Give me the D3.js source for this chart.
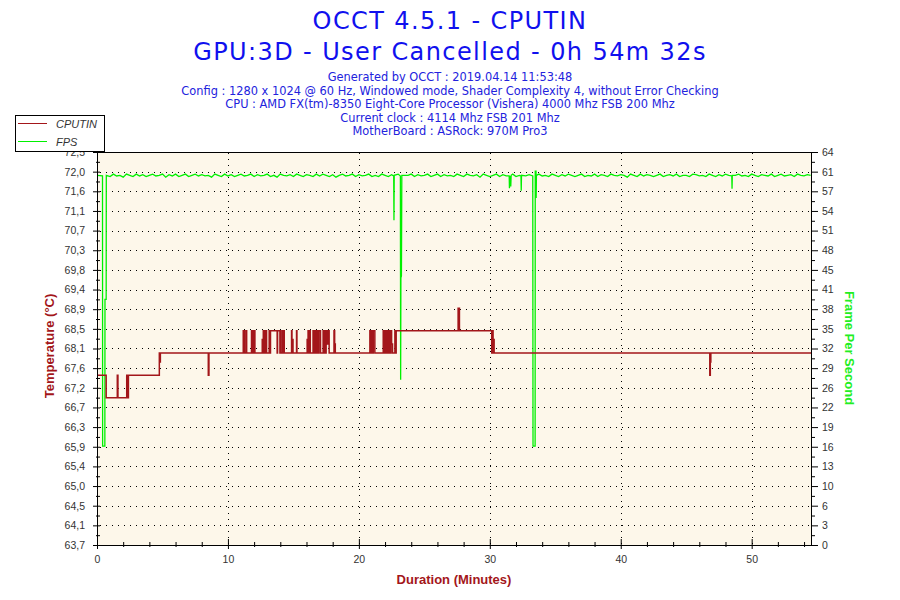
<!DOCTYPE html>
<html>
<head>
<meta charset="utf-8">
<script src="https://cdn.jsdelivr.net/npm/d3@7"></script>
<style>
  body { margin: 0; background: #fff; }
  svg { display: block; }
</style>
</head>
<body>
<div id="chart"></div>
<script>
// ---- data ----
const titleLines = ["OCCT 4.5.1 - CPUTIN", "GPU:3D - User Cancelled - 0h 54m 32s"];
const infoLines = [
  "Generated by OCCT : 2019.04.14 11:53:48",
  "Config : 1280 x 1024 @ 60 Hz, Windowed mode, Shader Complexity 4, without Error Checking",
  "CPU : AMD FX(tm)-8350 Eight-Core Processor (Vishera) 4000 Mhz FSB 200 Mhz",
  "Current clock : 4114 Mhz FSB 201 Mhz",
  "MotherBoard : ASRock: 970M Pro3"
];

const tempTickLabels = ["63,7","64,1","64,5","65,0","65,4","65,9","66,3","66,7","67,2","67,6","68,1",
  "68,5","68,9","69,4","69,8","70,3","70,7","71,1","71,6","72,0","72,5"];
const fpsTickLabels = ["0","3","6","10","13","16","19","22","26","29","32","35","38","41","45","48",
  "51","54","57","61","64"];
const timeTicks = [0, 10, 20, 30, 40, 50];
const durationMinutes = 54.53;

// CPUTIN temperature, change points (minutes, °C)
const tempTime = [0, 0.7, 1.55, 1.6, 2.27, 2.3, 2.33, 2.36, 2.4, 4.76, 4.8, 4.84, 8.5, 8.55,
  11.17, 11.2, 11.25, 11.28, 11.4, 11.43, 11.8, 11.85, 11.88, 11.95, 12.0, 12.06,
  12.62, 12.65, 12.7, 12.76, 12.8, 12.88, 12.9, 12.95, 13.15, 13.2, 13.25, 13.76, 13.79,
  13.97, 14.0, 14.05, 14.1, 14.17, 14.2, 14.24, 14.3, 14.86, 14.89, 14.94, 14.97, 15.24, 15.27,
  16.05, 16.08, 16.12, 16.2, 16.26, 16.29, 16.5, 16.54, 16.58, 16.64,
  16.72, 16.8, 16.84, 16.92, 16.95, 17.07, 17.27, 17.33, 17.37, 17.45, 17.5, 17.55, 17.62, 17.73,
  18.1, 18.15, 18.2,
  20.84, 20.9, 20.95, 21.05, 21.1, 21.22, 21.86, 21.95, 22.0, 22.1, 22.14, 22.24,
  22.3, 22.4, 22.45, 22.5, 22.57, 22.75, 22.8, 22.85,
  27.58, 27.68, 30.15, 30.2, 30.25, 30.28, 30.33, 46.8, 46.84, 46.88, 54.53];
const tempValue = [67.5, 67.0, 67.5, 67.0, 67.5, 67.0, 67.5, 67.0, 67.5, 68.0, 67.8, 68.0, 67.5, 68.0,
  68.5, 68.0, 68.5, 68.0, 68.5, 68.0, 68.5, 68.0, 68.5, 68.0, 68.5, 68.0,
  68.3, 68.0, 68.5, 68.0, 68.5, 68.0, 68.5, 68.0, 68.5, 68.0, 68.5, 68.0, 68.5,
  68.0, 68.5, 68.0, 68.0, 68.5, 68.0, 68.5, 68.0, 68.5, 68.0, 68.3, 68.0, 68.5, 68.0,
  68.3, 68.0, 68.5, 68.0, 68.5, 68.0, 68.5, 68.0, 68.5, 68.0,
  68.5, 68.0, 68.5, 68.0, 68.5, 68.0, 68.5, 68.0, 68.5, 68.0, 68.5, 68.2, 68.5, 68.0,
  68.5, 68.2, 68.0,
  68.5, 68.0, 68.5, 68.0, 68.5, 68.0, 68.5, 68.0, 68.5, 68.0, 68.5, 68.0,
  68.5, 68.0, 68.5, 68.2, 68.0, 68.5, 68.0, 68.5,
  69.0, 68.5, 68.0, 68.5, 68.0, 68.3, 68.0, 67.5, 67.8, 68.0, 68.0];

// FPS: steady jitter sampled every 0.25 min from 0.75 min on
const fpsNoiseStart = 0.75;
const fpsNoiseStep = 0.25;
const fpsNoise = [
  60.3,60.0,60.4,60.1,60.2,59.9,60.4,60.2,60.0,60.4,60.1,60.3,
  60.0,60.2,60.4,60.1,60.2,60.4,59.9,60.3,60.1,60.4,60.0,60.2,
  60.4,60.0,60.2,60.4,60.1,60.3,60.1,60.2,59.9,60.4,60.2,60.0,
  60.4,60.1,60.3,60.0,60.2,60.4,60.1,60.2,60.4,60.0,60.3,60.1,
  60.2,60.4,60.0,60.2,59.9,60.4,60.2,60.1,60.3,60.0,60.4,60.2,
  60.0,60.3,60.2,60.0,60.4,60.1,60.4,60.2,60.0,60.3,59.9,60.2,
  60.4,60.1,60.2,60.4,60.0,60.3,60.1,60.2,60.4,60.0,60.2,60.0,
  60.4,60.2,60.0,60.3,60.1,60.4,59.9,60.2,60.2,60.4,60.0,60.3,
  60.1,60.2,60.4,60.0,60.2,60.4,60.0,60.3,60.1,60.2,60.0,60.4,
  60.2,60.0,60.4,60.2,60.1,60.3,59.9,60.4,60.2,60.0,60.2,60.4,
  60.0,60.3,60.1,60.2,60.4,60.0,60.2,60.4,60.1,60.3,60.0,60.2,
  60.4,60.1,60.2,60.0,60.4,60.2,60.0,60.3,60.1,60.4,60.2,60.0,
  60.2,60.4,60.0,60.2,60.1,60.4,60.0,60.3,60.2,60.0,60.4,60.2,
  60.1,60.3,60.2,59.9,60.4,60.2,60.0,60.4,60.1,60.3,60.2,60.0,
  60.2,60.4,60.0,60.2,60.3,60.1,60.4,60.0,60.2,60.2,60.0,60.4,
  60.3,60.1,60.2,60.0,60.4,60.2,60.0,60.3,60.1,60.4,60.2,59.9,
  60.2,60.4,60.1,60.2,60.0,60.4,60.2,60.0,60.3,60.2,60.1,60.4,
  60.0,60.2,60.4,60.1,60.2,60.3,60.0,60.4,60.2,60.1,60.3,60.2];
// FPS drops (minutes, fps)
const fpsEventTime = [0, 0.42, 0.43, 0.6, 0.61, 0.7, 0.71,
  22.66, 22.68, 22.7,
  23.17, 23.19, 23.21, 23.25, 23.28,
  31.48, 31.5, 31.53, 31.6, 31.63,
  32.38, 32.4, 32.42,
  33.28, 33.3, 33.46, 33.47, 33.53, 33.54, 33.56,
  48.48, 48.5, 48.52];
const fpsEventValue = [60.2, 60.1, 16.1, 16.1, 40.0, 40.0, 60.2,
  60.1, 52.9, 60.2,
  60.1, 26.9, 43.5, 43.8, 60.2,
  60.1, 58.1, 60.1, 58.4, 60.2,
  60.1, 57.7, 60.2,
  60.1, 16.1, 16.1, 60.9, 60.9, 56.5, 60.2,
  60.1, 58.0, 60.2];

// ---- layout ----
const width = 900, height = 600;
const plot = { left: 97, right: 811, top: 152, bottom: 545 };

const svg = d3.select("#chart").append("svg")
  .attr("width", width)
  .attr("height", height);

// titles
svg.append("g").selectAll("text")
  .data(titleLines)
  .join("text")
  .attr("x", 450)
  .attr("y", (d, i) => 28.5 + i * 31.5)
  .attr("text-anchor", "middle")
  .attr("font-family", "DejaVu Sans, Verdana, sans-serif")
  .attr("font-size", 24)
  .attr("letter-spacing", 1.4)
  .attr("fill", "#1010ee")
  .text(d => d);

svg.append("g").selectAll("text")
  .data(infoLines)
  .join("text")
  .attr("x", 450)
  .attr("y", (d, i) => 81 + i * 13.6)
  .attr("text-anchor", "middle")
  .attr("font-family", "DejaVu Sans, Verdana, sans-serif")
  .attr("font-size", 11.4)
  .attr("fill", "#2222dd")
  .text(d => d);

// scales
const x = d3.scaleLinear().domain([0, durationMinutes]).range([plot.left, plot.right]);
const yTemp = d3.scaleLinear().domain([63.7, 72.5]).range([plot.bottom, plot.top]);
const yFps = d3.scaleLinear().domain([0, 64]).range([plot.bottom, plot.top]);

const tempTicks = tempTickLabels.map((d, i) => 63.7 + i * 0.44);
const tempMinor = tempTicks.slice(1).map(d => d - 0.22);
const fpsTicks = fpsTickLabels.map((d, i) => i * 3.2);
const fpsMinor = fpsTicks.slice(1).map(d => d - 1.6);
const timeMinor = d3.range(2, durationMinutes, 2).filter(d => d % 10 !== 0);

// plot background
svg.append("rect")
  .attr("x", plot.left)
  .attr("y", plot.top)
  .attr("width", plot.right - plot.left)
  .attr("height", plot.bottom - plot.top)
  .attr("fill", "#fdf7ea");

// dotted grid
const grid = svg.append("g")
  .attr("stroke", "#000")
  .attr("stroke-width", 1)
  .attr("stroke-dasharray", "1,5");
grid.selectAll(".hgrid")
  .data(tempTicks.slice(1, -1))
  .join("line")
  .attr("x1", plot.left + 3)
  .attr("x2", plot.right)
  .attr("y1", d => Math.round(yTemp(d)) + 0.5)
  .attr("y2", d => Math.round(yTemp(d)) + 0.5);
grid.selectAll(".vgrid")
  .data(timeTicks.slice(1))
  .join("line")
  .attr("x1", d => Math.round(x(d)) + 0.5)
  .attr("x2", d => Math.round(x(d)) + 0.5)
  .attr("y1", plot.top + 1)
  .attr("y2", plot.bottom);

// series
const tempData = tempTime.map((t, i) => ({ t: t, v: tempValue[i] }));
const fpsData = fpsNoise
  .map((v, i) => ({ t: fpsNoiseStart + i * fpsNoiseStep, v: v }))
  .filter(p => fpsEventTime.every(e => Math.abs(e - p.t) > 0.12))
  .concat(fpsEventTime.map((t, i) => ({ t: t, v: fpsEventValue[i] })))
  .sort((a, b) => a.t - b.t);

svg.append("path")
  .datum(fpsData)
  .attr("fill", "none")
  .attr("stroke", "#00f000")
  .attr("stroke-width", 1.3)
  .attr("d", d3.line().x(d => x(d.t)).y(d => yFps(d.v)));

svg.append("path")
  .datum(tempData)
  .attr("fill", "none")
  .attr("stroke", "#a3161a")
  .attr("stroke-width", 1.5)
  .attr("d", d3.line().curve(d3.curveStepAfter).x(d => x(d.t)).y(d => yTemp(d.v)));

// top border
svg.append("line")
  .attr("x1", plot.left).attr("x2", plot.right)
  .attr("y1", plot.top + 0.5).attr("y2", plot.top + 0.5)
  .attr("stroke", "#000");

const tickFont = g => g.selectAll("text")
  .attr("font-family", "Liberation Sans, Arial, sans-serif")
  .attr("font-size", 10.5)
  .attr("fill", "#333");

// left axis
svg.append("g")
  .attr("transform", `translate(${plot.left},0)`)
  .call(d3.axisLeft(yTemp).tickValues(tempMinor).tickSize(1).tickSizeOuter(0).tickFormat(""))
  .call(g => g.select(".domain").remove())
  .call(g => g.selectAll(".tick line").attr("x1", 3).attr("stroke", "#000"));
svg.append("g")
  .attr("transform", `translate(${plot.left},0)`)
  .call(d3.axisLeft(yTemp).tickValues(tempTicks).tickSize(4).tickSizeOuter(0)
    .tickPadding(8).tickFormat((d, i) => tempTickLabels[i]))
  .call(g => g.selectAll(".tick line").attr("x1", 3).attr("stroke", "#000"))
  .call(g => g.select(".domain").attr("stroke", "#000"))
  .call(tickFont);

// right axis
svg.append("g")
  .attr("transform", `translate(${plot.right},0)`)
  .call(d3.axisRight(yFps).tickValues(fpsMinor).tickSize(4).tickSizeOuter(0).tickFormat(""))
  .call(g => g.select(".domain").remove())
  .call(g => g.selectAll(".tick line").attr("stroke", "#000"));
svg.append("g")
  .attr("transform", `translate(${plot.right},0)`)
  .call(d3.axisRight(yFps).tickValues(fpsTicks).tickSize(7).tickSizeOuter(0)
    .tickPadding(4).tickFormat((d, i) => fpsTickLabels[i]))
  .call(g => g.selectAll(".tick line").attr("stroke", "#000"))
  .call(g => g.select(".domain").attr("stroke", "#000"))
  .call(tickFont);

// bottom axis
svg.append("g")
  .attr("transform", `translate(0,${plot.bottom})`)
  .call(d3.axisBottom(x).tickValues(timeMinor).tickSize(2).tickSizeOuter(0).tickFormat(""))
  .call(g => g.select(".domain").remove())
  .call(g => g.selectAll(".tick line").attr("y1", -3).attr("stroke", "#000"));
svg.append("g")
  .attr("transform", `translate(0,${plot.bottom})`)
  .call(d3.axisBottom(x).tickValues(timeTicks).tickSize(4).tickSizeOuter(0).tickPadding(7))
  .call(g => g.selectAll(".tick line").attr("y1", -6).attr("stroke", "#000"))
  .call(g => g.select(".domain").attr("stroke", "#000"))
  .call(tickFont);

// axis titles
const axisTitle = (sel) => sel
  .attr("font-family", "Liberation Sans, Arial, sans-serif")
  .attr("font-size", 13)
  .attr("font-weight", "bold")
  .attr("text-anchor", "middle");

svg.append("text")
  .call(axisTitle)
  .attr("x", 454)
  .attr("y", 584)
  .attr("fill", "#a3161a")
  .text("Duration (Minutes)");

svg.append("text")
  .call(axisTitle)
  .attr("transform", "translate(54,346) rotate(-90)")
  .attr("fill", "#a3161a")
  .text("Temperature (°C)");

svg.append("text")
  .call(axisTitle)
  .attr("transform", "translate(845,348) rotate(90)")
  .attr("fill", "#22ee22")
  .text("Frame Per Second");

// legend
const legend = svg.append("g");
legend.append("rect")
  .attr("x", 15.5).attr("y", 115.5)
  .attr("width", 89).attr("height", 36)
  .attr("fill", "#fff")
  .attr("stroke", "#000");
const legendItems = [
  { name: "CPUTIN", color: "#a3161a" },
  { name: "FPS", color: "#00f000" }
];
legendItems.forEach((d, i) => {
  const ly = 123.5 + i * 18;
  legend.append("line")
    .attr("x1", 18).attr("x2", 47)
    .attr("y1", ly).attr("y2", ly)
    .attr("stroke", d.color);
  legend.append("text")
    .attr("x", 56).attr("y", ly + 4)
    .attr("font-family", "Liberation Sans, Arial, sans-serif")
    .attr("font-size", 11)
    .attr("font-style", "italic")
    .attr("fill", "#333")
    .text(d.name);
});
</script>
</body>
</html>
